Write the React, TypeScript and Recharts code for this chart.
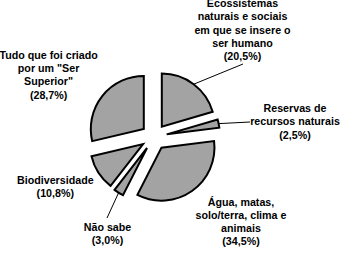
import { PieChart, Pie, Cell, Sector } from "recharts";

const RAD = Math.PI / 180;
const EXPLODE = 13;

const categories = [
  ["Ecossistemas", "naturais e sociais", "em que se insere o", "ser humano"],
  ["Reservas de", "recursos naturais"],
  ["Água, matas,", "solo/terra, clima e", "animais"],
  ["Não sabe"],
  ["Biodiversidade"],
  ["Tudo que foi criado", 'por um "Ser', 'Superior"'],
];
const shares = [20.5, 2.5, 34.5, 3.0, 10.8, 28.7];

// label placement (center of first line) and leader line end points
const labelX = [242.5, 295, 241, 107.5, 55.3, 48.6];
const labelY = [3.3, 108.3, 201.7, 226.7, 180, 55];
const leaderEnd: ([number, number] | null)[] = [[243, 64], [250, 122], null, [107, 218], null, null];

const data = categories.map((lines, i) => ({ name: lines.join(" "), lines, value: shares[i] }));

const fmt = (v: number) => `(${v.toFixed(1).replace(".", ",")}%)`;

const shift = (midAngle: number) => ({
  dx: EXPLODE * Math.cos(-midAngle * RAD),
  dy: EXPLODE * Math.sin(-midAngle * RAD),
});

const ExplodedSector = (props: any) => {
  const { dx, dy } = shift(props.midAngle);
  return <Sector {...props} cx={props.cx + dx} cy={props.cy + dy} />;
};

const renderLabel = (props: any) => {
  const { cx, cy, midAngle, outerRadius, index, value, payload } = props;
  const lines: string[] = [...(payload?.lines ?? data[index].lines), fmt(value)];
  const { dx, dy } = shift(midAngle);
  const end = leaderEnd[index];
  const sx = cx + dx + outerRadius * Math.cos(-midAngle * RAD);
  const sy = cy + dy + outerRadius * Math.sin(-midAngle * RAD);
  return (
    <g key={`lbl-${index}`}>
      {end && <line x1={sx} y1={sy} x2={end[0]} y2={end[1]} stroke="#000" strokeWidth={1} />}
      <text
        x={labelX[index]}
        y={labelY[index] + 3.8}
        textAnchor="middle"
        fontFamily="'Liberation Sans', Arial, sans-serif"
        fontWeight="bold"
        fontSize={10.7}
        fill="#000"
      >
        {lines.map((l, k) => (
          <tspan key={k} x={labelX[index]} dy={k === 0 ? 0 : 13.3}>
            {l}
          </tspan>
        ))}
      </text>
    </g>
  );
};

export default function App() {
  return (
    <div style={{ width: 346, height: 253, background: "#fff" }}>
      <style>{`body{margin:0}`}</style>
      <PieChart width={346} height={253} margin={{ top: 0, right: 0, bottom: 0, left: 0 }}>
        <Pie
          data={data}
          dataKey="value"
          cx={154}
          cy={137}
          outerRadius={53}
          startAngle={90}
          endAngle={-270}
          stroke="#000"
          strokeWidth={2}
          label={renderLabel}
          labelLine={false}
          shape={ExplodedSector}
          activeShape={ExplodedSector}
          isAnimationActive={false}
        >
          {data.map((d, i) => (
            <Cell key={i} fill="#a3a3a3" />
          ))}
        </Pie>
      </PieChart>
    </div>
  );
}
